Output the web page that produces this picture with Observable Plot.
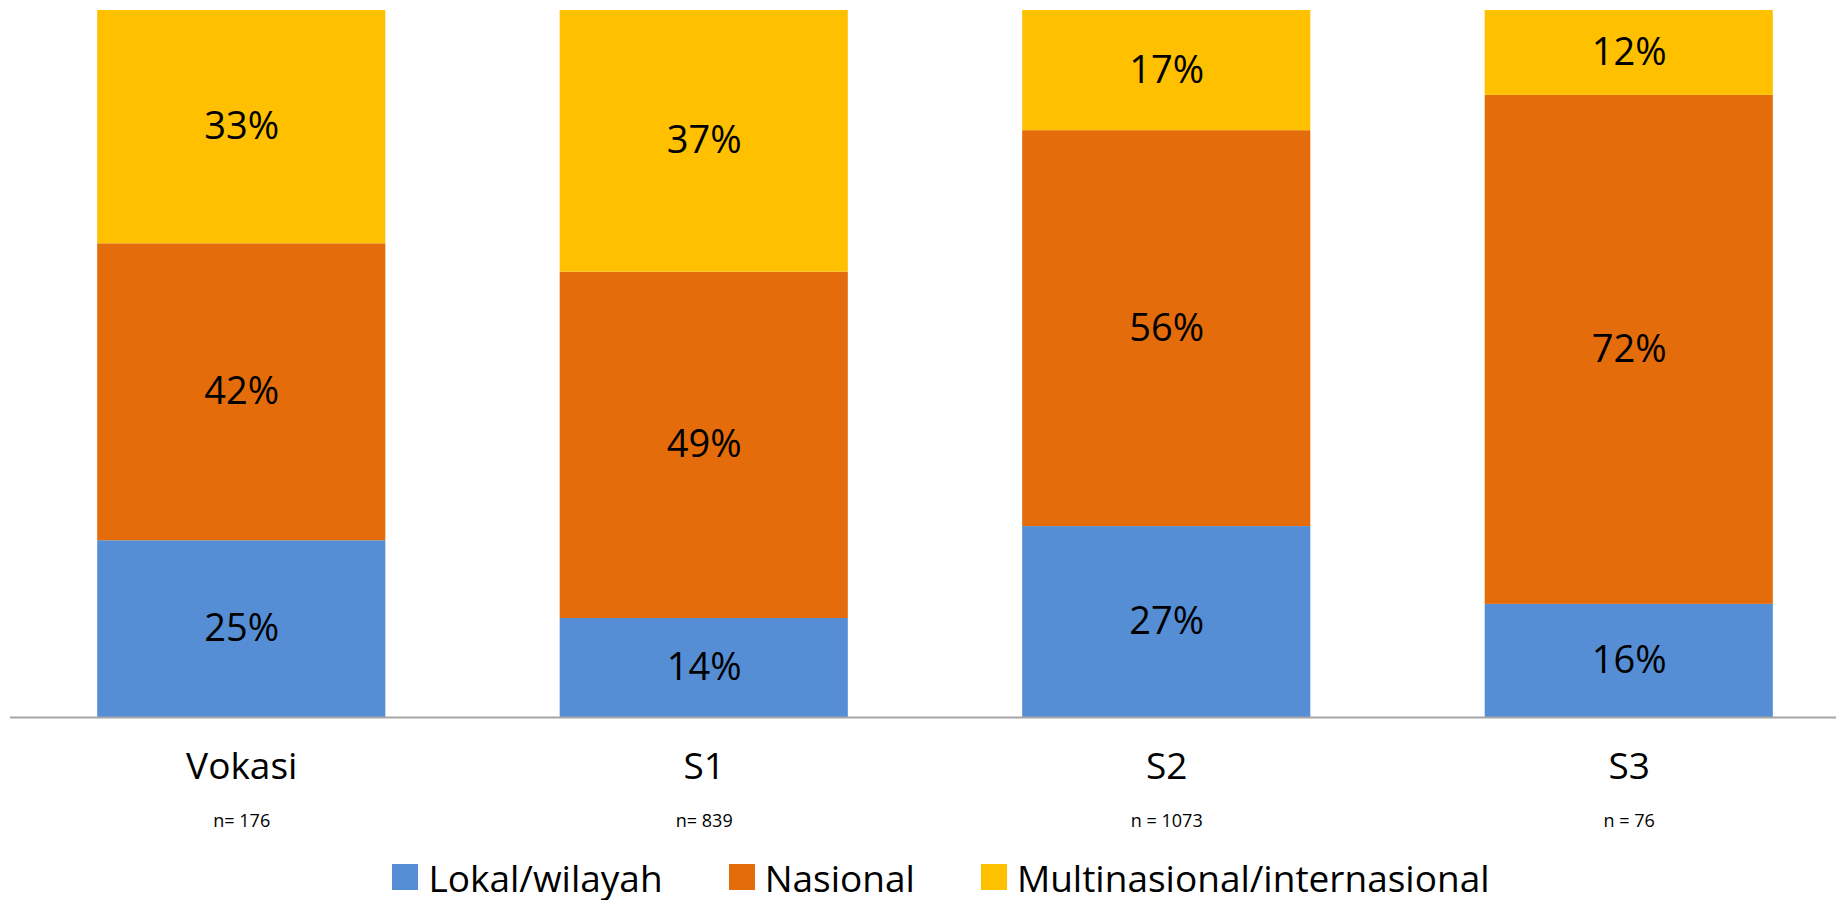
<!DOCTYPE html>
<html>
<head>
<meta charset="utf-8">
<script src="https://cdn.jsdelivr.net/npm/d3@7"></script>
<script src="https://cdn.jsdelivr.net/npm/@observablehq/plot@0.6"></script>
<style>
  html, body { margin: 0; padding: 0; background: #fff; overflow: hidden; }
  body { font-family: "Open Sans", sans-serif; width: 1836px; height: 900px; }
  #legend {
    width: 1836px; height: 54px; box-sizing: border-box; padding-left: 46px;
    display: flex; justify-content: center; align-items: center; gap: 66px;
    font-size: 37px; line-height: 1; color: #000;
  }
  #legend .item { display: flex; align-items: center; gap: 10px; }
  #legend .sw { width: 26px; height: 26px; display: inline-block; }
  #legend .lbl { display: inline-block; height: 37px; line-height: 37px; white-space: nowrap; }
</style>
</head>
<body>
<div id="chart"></div>
<div id="legend"></div>
<script>
const categories = ["Vokasi", "S1", "S2", "S3"];
const nLabels = ["n= 176", "n= 839", "n = 1073", "n = 76"];
const series = ["Lokal/wilayah", "Nasional", "Multinasional/internasional"];
const lokal = [25, 14, 27, 16];
const nasional = [42, 49, 56, 72];
const multinasional = [33, 37, 17, 12];
const colors = ["#558ED5", "#E46C0A", "#FFC000"];

const seriesValues = [lokal, nasional, multinasional];
const rows = [];
series.forEach((s, si) => {
  categories.forEach((c, ci) => {
    rows.push({category: c, series: s, value: seriesValues[si][ci]});
  });
});
const nRows = categories.map((c, i) => ({category: c, n: nLabels[i]}));

const chart = Plot.plot({
  width: 1836,
  height: 850,
  marginTop: 10,
  marginBottom: 133,
  marginLeft: 10,
  marginRight: 0,
  style: {fontFamily: "'Open Sans', sans-serif", background: "#fff", overflow: "hidden"},
  x: {domain: categories, range: [10, 1860], paddingInner: 0.377, paddingOuter: 0.1885, round: false, axis: null},
  y: {domain: [0, 100], axis: null},
  color: {domain: series, range: colors},
  marks: [
    Plot.barY(rows, {x: "category", y: "value", fill: "series", inset: 0}),
    Plot.text(rows, Plot.stackY({x: "category", y: "value", z: "series", text: d => d.value + "%", fontSize: 38, fill: "#000"})),
    Plot.ruleY([0], {stroke: "#a6a6a6", strokeWidth: 2}),
    Plot.text(categories, {x: d => d, text: d => d, frameAnchor: "bottom", dy: 61, fontSize: 37, fill: "#000"}),
    Plot.text(nRows, {x: "category", text: "n", frameAnchor: "bottom", dy: 109, fontSize: 18, fill: "#000"})
  ]
});
document.getElementById("chart").appendChild(chart);

const legend = document.getElementById("legend");
series.forEach((s, i) => {
  const item = document.createElement("div");
  item.className = "item";
  const sw = document.createElement("span");
  sw.className = "sw";
  sw.style.background = colors[i];
  const label = document.createElement("span");
  label.className = "lbl";
  label.textContent = s;
  item.appendChild(sw);
  item.appendChild(label);
  legend.appendChild(item);
});
</script>
</body>
</html>
